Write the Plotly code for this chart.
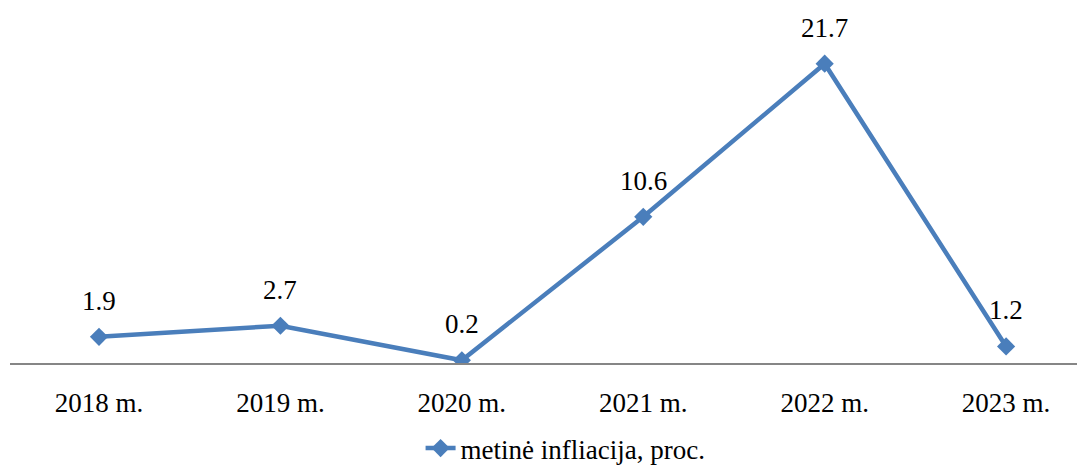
import plotly.graph_objects as go

categories = ["2018 m.", "2019 m.", "2020 m.", "2021 m.", "2022 m.", "2023 m."]
values = [1.9, 2.7, 0.2, 10.6, 21.7, 1.2]
labels = ["1.9", "2.7", "0.2", "10.6", "21.7", "1.2"]
series_name = "metinė infliacija, proc."

color = "#4a7ebb"
font_family = "Times New Roman, Liberation Serif, serif"

fig = go.Figure()
fig.add_trace(go.Scatter(
    x=list(range(len(categories))), y=values, mode="lines+markers",
    name=series_name,
    line=dict(color=color, width=4.5),
    marker=dict(symbol="diamond", size=14, color=color),
))

for i, (v, t) in enumerate(zip(values, labels)):
    fig.add_annotation(x=i, y=v, text=t, showarrow=False, yshift=36,
                       font=dict(family=font_family, size=27, color="black"))

fig.update_layout(
    width=1085, height=465,
    margin=dict(l=2, r=0, t=0, b=108),
    plot_bgcolor="white", paper_bgcolor="white",
    font=dict(family=font_family, size=27, color="black"),
    showlegend=True,
    legend=dict(orientation="h", x=0.513, xanchor="center", y=-0.241, yanchor="middle",
                font=dict(family=font_family, size=27, color="black"),
                bgcolor="rgba(0,0,0,0)"),
    xaxis=dict(range=[-0.4906, 5.479], tickmode="array",
               tickvals=list(range(len(categories))), ticktext=categories,
               showgrid=False, zeroline=False, showline=True,
               linecolor="#868686", linewidth=1.5, ticks="",
               ticklabelstandoff=15,
               tickfont=dict(family=font_family, size=27, color="black")),
    yaxis=dict(range=[0, 25.74], showgrid=False, zeroline=False,
               showline=False, showticklabels=False, ticks=""),
)

fig.write_html("out.html")
